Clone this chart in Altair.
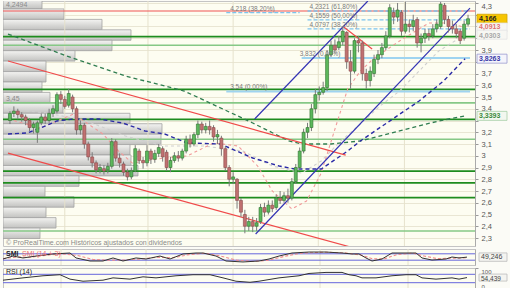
import altair as alt
import pandas as pd

# ---------------- candles (weekly) ----------------
opens = [3.30, 3.36, 3.38, 3.35, 3.33, 3.30, 3.24, 3.20, 3.28, 3.33,
         3.30, 3.36, 3.38, 3.52, 3.48, 3.43, 3.50, 3.40, 3.22, 3.26,
         3.10, 2.99, 2.94, 2.88, 2.89, 2.88, 2.91, 3.12, 2.98, 2.93,
         2.86, 2.82, 2.87, 3.04, 2.96, 2.94, 3.04, 2.97, 3.02, 3.06,
         3.03, 2.90, 2.96, 3.00, 2.98, 3.04, 3.14, 3.10, 3.18, 3.27,
         3.22, 3.25, 3.24, 3.16, 3.15, 3.06, 2.90, 2.80, 2.80, 2.62,
         2.50, 2.40, 2.44, 2.40, 2.44, 2.56, 2.52, 2.58, 2.56, 2.64,
         2.62, 2.66, 2.64, 2.78, 2.90, 3.04, 3.20, 3.24, 3.40, 3.52,
         3.54, 3.58, 3.86, 3.94, 3.92, 3.97, 4.05, 3.80, 3.72, 3.98,
         3.96, 3.70, 3.64, 3.70, 3.82, 3.86, 3.92, 4.02, 4.22, 4.18,
         4.22, 4.06, 4.12, 4.10, 4.16, 3.96, 4.00, 4.04, 4.02, 4.08,
         4.10, 4.28, 4.16, 4.10, 4.08, 4.06, 4.00, 4.12]
closes = [3.36, 3.38, 3.35, 3.33, 3.30, 3.24, 3.27, 3.28, 3.33, 3.30,
          3.36, 3.40, 3.52, 3.48, 3.42, 3.53, 3.40, 3.22, 3.26, 3.10,
          2.99, 2.94, 2.88, 2.90, 2.87, 2.91, 3.12, 2.98, 2.94, 2.86,
          2.82, 2.87, 3.06, 2.96, 2.94, 3.04, 2.97, 3.02, 3.07, 2.99,
          2.90, 2.96, 3.00, 2.98, 3.04, 3.14, 3.10, 3.18, 3.27, 3.22,
          3.25, 3.22, 3.16, 3.18, 3.06, 2.90, 2.80, 2.82, 2.62, 2.52,
          2.40, 2.44, 2.40, 2.43, 2.56, 2.52, 2.58, 2.55, 2.64, 2.62,
          2.66, 2.64, 2.78, 2.90, 3.04, 3.20, 3.24, 3.40, 3.52, 3.54,
          3.58, 3.86, 3.94, 3.90, 3.97, 4.06, 3.80, 3.72, 3.98, 3.96,
          3.70, 3.64, 3.72, 3.82, 3.86, 3.92, 4.02, 4.26, 4.18, 4.24,
          4.06, 4.12, 4.10, 4.15, 3.96, 4.00, 4.04, 4.02, 4.08, 4.12,
          4.29, 4.16, 4.10, 4.08, 4.04, 3.98, 4.12, 4.166]
highs = [3.38, 3.42, 3.40, 3.37, 3.35, 3.32, 3.29, 3.30, 3.36, 3.36,
         3.40, 3.43, 3.54, 3.55, 3.51, 3.57, 3.52, 3.42, 3.30, 3.28,
         3.12, 3.03, 2.96, 2.93, 2.92, 2.94, 3.15, 3.14, 3.02, 2.95,
         2.89, 2.90, 3.09, 3.06, 2.99, 3.09, 3.06, 3.05, 3.10, 3.08,
         3.05, 2.99, 3.03, 3.04, 3.06, 3.17, 3.18, 3.20, 3.30, 3.29,
         3.28, 3.30, 3.26, 3.22, 3.17, 3.08, 2.92, 2.86, 2.81, 2.64,
         2.54, 2.48, 2.48, 2.47, 2.59, 2.60, 2.62, 2.62, 2.67, 2.70,
         2.69, 2.72, 2.81, 2.93, 3.07, 3.23, 3.28, 3.44, 3.57, 3.59,
         3.63, 3.90, 3.98, 3.99, 4.02, 4.10, 4.06, 3.90, 4.00, 4.02,
         3.98, 3.74, 3.76, 3.86, 3.90, 3.96, 4.06, 4.29, 4.26, 4.30,
         4.24, 4.31, 4.16, 4.20, 4.18, 4.04, 4.08, 4.08, 4.12, 4.16,
         4.31, 4.30, 4.19, 4.15, 4.12, 4.08, 4.15, 4.20]
lows = [3.27, 3.33, 3.31, 3.29, 3.26, 3.21, 3.19, 3.11, 3.26, 3.27,
        3.28, 3.33, 3.36, 3.44, 3.40, 3.41, 3.37, 3.18, 3.18, 3.06,
        2.96, 2.90, 2.85, 2.85, 2.84, 2.85, 2.89, 2.95, 2.90, 2.83,
        2.79, 2.80, 2.86, 2.93, 2.89, 2.91, 2.93, 2.94, 2.99, 2.95,
        2.87, 2.86, 2.94, 2.95, 2.96, 3.02, 3.07, 3.08, 3.15, 3.19,
        3.19, 3.18, 3.12, 3.10, 3.00, 2.87, 2.74, 2.76, 2.55, 2.48,
        2.34, 2.36, 2.35, 2.36, 2.42, 2.48, 2.50, 2.52, 2.54, 2.59,
        2.60, 2.60, 2.62, 2.76, 2.88, 3.02, 3.15, 3.21, 3.36, 3.47,
        3.52, 3.55, 3.84, 3.87, 3.90, 3.94, 3.74, 3.57, 3.70, 3.88,
        3.64, 3.57, 3.59, 3.67, 3.78, 3.83, 3.90, 4.00, 4.12, 4.14,
        4.02, 4.04, 4.05, 4.06, 3.92, 3.88, 3.96, 3.98, 4.00, 4.05,
        4.08, 4.12, 4.05, 4.04, 4.00, 3.95, 3.98, 4.10]

# ---------------- volume-at-price profile ----------------
vol_lower = [4.2494, 4.1606, 4.0718, 3.9830, 3.8942, 3.8054, 3.7166, 3.6278, 3.5390, 3.4502,
             3.3614, 3.2726, 3.1838, 3.0950, 3.0062, 2.9174, 2.8286, 2.7398, 2.6510, 2.5622,
             2.4734, 2.3846, 2.2958]
vol_upper = [4.3382, 4.2494, 4.1606, 4.0718, 3.9830, 3.8942, 3.8054, 3.7166, 3.6278, 3.5390,
             3.4502, 3.3614, 3.2726, 3.1838, 3.0950, 3.0062, 2.9174, 2.8286, 2.7398, 2.6510,
             2.5622, 2.4734, 2.3846]
vol_amount = [39, 61, 99, 128, 109, 72, 43, 43, 39, 47, 60, 127, 159, 158, 127, 128, 135,
              76, 42, 71, 43, 53, 37]
vol_tag = ["4,2494", "", "", "", "", "", "", "", "", "3,45", "", "", "", "", "", "", "",
           "", "", "", "", "", ""]

# ---------------- horizontal levels ----------------
green_dark_levels = [4.013, 3.565, 3.31, 2.87, 2.77, 2.643]
green_light_levels = [3.94, 3.45, 3.14, 2.36]
red_levels = [4.2321]

# Fibonacci segments: start index, end index, price
fib_solid_x0 = [74.5, 55.25]
fib_solid_x1 = [117.5, 117.5]
fib_solid_p = [3.832, 3.547]
fib_dash_x0 = [55.25, 76.0, 76.0, 76.0]
fib_dash_x1 = [74.0, 117.5, 117.5, 117.5]
fib_dash_p = [4.218, 4.2321, 4.1559, 4.0797]
fib_text = ["4,218 (38,20%)", "4,2321 (61,80%)", "4,1559 (50,00%)", "4,0797 (38,20%)",
            "3,832 (0,00%)", "3,54 (0,00%)"]
fib_text_x = [56.25, 76.5, 76.5, 76.5, 74.0, 56.25]
fib_text_p = [4.218, 4.2321, 4.1559, 4.0797, 3.832, 3.547]

# trend lines (two end points each)
red_id = ["a", "a", "b", "b", "c", "c"]
red_x = [-0.5, 85.75, -0.5, 87.0, 85.25, 92.5]
red_p = [3.806, 3.006, 3.023, 2.223, 4.096, 3.909]
blue_id = ["u", "u", "m", "m"]
blue_x = [62.5, 91.4, 62.75, 117.5]
blue_p = [3.313, 4.317, 2.334, 4.257]

# moving averages
ma_blue_x = [-0.5, 4.5, 7.75, 12, 16.25, 22.75, 28.75, 34.5, 39.5, 45.25, 53.75, 62, 68.75,
             72.75, 79.5, 86.25, 89.5, 97.75, 104.5, 110.75, 116.25]
ma_blue_p = [3.185, 3.194, 3.236, 3.296, 3.313, 3.313, 3.279, 3.211, 3.185, 3.109, 3.100,
             2.981, 2.913, 2.887, 2.887, 3.040, 3.126, 3.313, 3.466, 3.636, 3.8263]
ma_green_x = [-0.5, 14.5, 29.5, 44.5, 52.75, 62, 71.25, 74.5, 82, 89.5, 99.5, 109.5, 116.25]
ma_green_p = [4.036, 3.849, 3.679, 3.551, 3.423, 3.279, 3.126, 3.100, 3.100, 3.126, 3.211,
              3.296, 3.3393]
ma_pink_x = [-0.5, 7.75, 16.25, 23.75, 27.75, 31.25, 34.5, 39.5, 45.25, 52, 58.25, 63.25, 67,
             72, 75.75, 79.5, 83.25, 86.25, 89.5, 92.75, 99.5, 107, 112, 116.25]
ma_pink_p = [3.313, 3.236, 3.355, 3.185, 3.040, 2.938, 2.955, 2.981, 2.998, 3.109, 3.083,
             2.913, 2.700, 2.547, 2.615, 2.853, 3.253, 3.568, 3.721, 3.823, 3.977, 4.130,
             4.130, 4.0913]
ma_gray_x = [-0.5, 9.5, 19.5, 29.5, 39.5, 49.5, 59.5, 67, 74.5, 79.5, 84.5, 89.5, 94.5, 99.5,
             104.5, 109.5, 116.25]
ma_gray_p = [3.398, 3.364, 3.296, 3.168, 3.083, 3.083, 3.040, 2.913, 2.853, 2.955, 3.126,
             3.270, 3.423, 3.551, 3.721, 3.891, 4.0303]

# last-value tags on the price axis
tag_p = [4.166, 4.0913, 4.0303, 3.8263, 3.3393]
tag_text = ["4,166", "4,0913", "4,0303", "3,8263", "3,3393"]
tag_fill = ["#f6c500", "#f7f7f3", "#f7f7f3", "#f4f4fb", "#f2f7ef"]
tag_stroke = ["#d4a400", "#e4e4e4", "#e4e4e4", "#9a9ad0", "#a8cfa8"]
tag_color = ["#222222", "#e07070", "#a8a8a8", "#3a3aa8", "#3a8a3a"]
tag_shift = [0, -1, 1.5, 0, 0]

price_ticks = [2.3, 2.4, 2.5, 2.6, 2.7, 2.8, 2.9, 3.0, 3.1, 3.2, 3.3, 3.4, 3.5, 3.6, 3.7,
               3.8, 3.9, 4.0, 4.1, 4.2, 4.3]
vgrid_x = [14, 35.25, 57, 78.75, 100.75]

# ---------------- SMI / RSI ----------------
smi_x = [-0.5, 2, 4.5, 7.75, 12, 16.25, 17.75, 21.25, 24.5, 27, 29.5, 32.75, 35.25, 38.75,
         41.25, 44.5, 47.75, 49.5, 52.75, 55.25, 59.5, 63.5, 66, 68.5, 71.75, 76, 80.25,
         84.25, 86.75, 88.5, 90.25, 91.75, 94.25, 96.75, 100.25, 102.75, 104.25, 106.75,
         110.25, 111.75, 113.5, 115.5]
smi_v = [37.5, 56, 44, 56, 69, 75, 44, 25, 25, 44, 25, 44, 37.5, 56, 37.5, 69, 75, 75, 56,
         25, 19, 25, 37.5, 56, 75, 81, 81, 75, 69, 69, 44, 25, 37.5, 75, 75, 75, 44, 31,
         37.5, 50, 44, 49.246]
sig_x = [-0.5, 3, 6, 10, 14, 18, 22, 26, 30, 34, 38, 42, 46, 50, 54, 58, 62, 66, 70, 74,
         80, 85, 89, 92, 95, 98, 102, 105, 108, 112, 115.5]
sig_v = [40, 50, 48, 60, 70, 60, 35, 30, 32, 38, 48, 45, 65, 74, 55, 30, 22, 30, 55, 74,
         80, 76, 62, 38, 40, 65, 74, 55, 40, 42, 46]
rsi_x = [-0.5, 4.5, 9.5, 13.75, 16.25, 19.5, 24.5, 27, 31.25, 34.5, 37.75, 42.75, 47, 51.25,
         54.5, 57.75, 61.25, 63.5, 68.5, 73.5, 76, 80.25, 84.25, 86, 87.75, 89.25, 92.75,
         96.75, 100.25, 102.75, 104.25, 107.75, 111.75, 113.5, 115.5]
rsi_v = [42, 53, 63, 68, 47, 37, 42, 53, 47, 58, 53, 63, 68, 68, 53, 37, 32, 37, 53, 63, 74,
         79, 79, 68, 63, 53, 53, 63, 68, 68, 53, 47, 53, 47, 54.439]

# ---------------- build ----------------
W = 472
XS = alt.Scale(domain=[-0.5, 117.5], nice=False, zero=False)
YS = alt.Scale(domain=[2.232, 4.317], nice=False, zero=False)
FONT = "Liberation Sans"
BOX = "M-1,-0.3L1,-0.3L1,0.3L-1,0.3Z"
BOX_S = "M-1,-0.25L1,-0.25L1,0.25L-1,0.25Z"

candles = pd.DataFrame({"i": list(range(len(opens))), "o": opens, "h": highs,
                        "l": lows, "c": closes})
vol_df = pd.DataFrame({"lo": vol_lower, "hi": vol_upper, "v": vol_amount, "t": vol_tag})
vol_df["zero"] = 0
vol_df["mid"] = (vol_df["lo"] + vol_df["hi"]) / 2

label_expr = ("indexof([33,38,40,41,42], round(datum.value*10)) >= 0 ? '' : "
              "replace(format(datum.value, '.1~f'), '.', ',')")
YAX = alt.Axis(orient="right", values=price_ticks, labelExpr=label_expr,
               labelFontSize=7.5, labelColor="#555555", labelFont=FONT,
               tickSize=3, tickColor="#999999", domainColor="#aaaaaa",
               labelPadding=3, grid=True, gridColor="#e9e6d3", labelFlush=4, title=None)


def Y(field):
    return alt.Y(field, scale=YS, axis=YAX)


VX = alt.Scale(domain=[0, W], nice=False, zero=False)
gradient = {"gradient": "linear", "x1": 0, "y1": 0, "x2": 0, "y2": 1,
            "stops": [{"offset": 0, "color": "#f4f4f2"}, {"offset": 0.55, "color": "#d8d8d6"},
                      {"offset": 1, "color": "#c2c2c0"}]}

vol_bars = alt.Chart(vol_df).mark_bar(color=gradient, stroke="#a2a2a2", strokeWidth=0.8,
                                      clip=True).encode(
    x=alt.X("zero:Q", scale=VX, axis=None), x2="v:Q", y=Y("lo:Q"), y2="hi:Q")
vol_text = alt.Chart(vol_df).mark_text(align="left", baseline="middle", fontSize=7,
                                       font=FONT, color="#8a8a8a", dx=3, dy=1).encode(
    x=alt.X("zero:Q", scale=VX, axis=None), y=Y("mid:Q"), text="t:N")
vol_layer = alt.layer(vol_bars, vol_text)


def hrules(levels, color, width):
    return alt.Chart(pd.DataFrame({"p": levels})).mark_rule(
        color=color, strokeWidth=width).encode(y=Y("p:Q"))


vgrid = alt.Chart(pd.DataFrame({"x": vgrid_x})).mark_rule(color="#e6e2cc", strokeWidth=1).encode(
    x=alt.X("x:Q", scale=XS, axis=None))

g_light = hrules(green_light_levels, "#86c886", 1.6)
g_dark = hrules(green_dark_levels, "#1e8c1e", 1.8)
r_level = hrules(red_levels, "#f05555", 1.2)

fib_s = alt.Chart(pd.DataFrame({"x0": fib_solid_x0, "x1": fib_solid_x1, "p": fib_solid_p})
                  ).mark_rule(color="#9fd4f0", strokeWidth=2.2).encode(
    x=alt.X("x0:Q", scale=XS, axis=None), x2="x1:Q", y=Y("p:Q"))
fib_d = alt.Chart(pd.DataFrame({"x0": fib_dash_x0, "x1": fib_dash_x1, "p": fib_dash_p})
                  ).mark_rule(color="#7cc4ee", strokeWidth=1.3, strokeDash=[4, 2]).encode(
    x=alt.X("x0:Q", scale=XS, axis=None), x2="x1:Q", y=Y("p:Q"))
fib_t = alt.Chart(pd.DataFrame({"x": fib_text_x, "p": fib_text_p, "t": fib_text})
                  ).mark_text(align="left", baseline="bottom", fontSize=6.5, font=FONT,
                              color="#7a7a7a", dy=-1).encode(
    x=alt.X("x:Q", scale=XS, axis=None), y=Y("p:Q"), text="t:N")


def curve(xs, ps, color, width, dash=None, ids=None):
    df = pd.DataFrame({"x": xs, "p": ps})
    df["g"] = ids if ids is not None else "s"
    df["o"] = range(len(df))
    kw = dict(color=color, strokeWidth=width, clip=True)
    if dash:
        kw["strokeDash"] = dash
    return alt.Chart(df).mark_line(**kw).encode(
        x=alt.X("x:Q", scale=XS, axis=None), y=Y("p:Q"), detail="g:N", order="o:Q")


ma_gray = curve(ma_gray_x, ma_gray_p, "#cfcfcf", 1.1, [3, 3])
ma_pink = curve(ma_pink_x, ma_pink_p, "#f19a9a", 1.1, [3, 3])
ma_green = curve(ma_green_x, ma_green_p, "#2f7d4f", 1.3, [4, 3])
ma_blue = curve(ma_blue_x, ma_blue_p, "#2a2aa6", 1.4, [4, 3])
red_tl = curve(red_x, red_p, "#f04a4a", 1.2, None, red_id)
blue_tl = curve(blue_x, blue_p, "#3434b4", 1.2, None, blue_id)

wicks = alt.Chart(candles).mark_rule(color="#7a7a7a", strokeWidth=1).encode(
    x=alt.X("i:Q", scale=XS, axis=None), y=Y("l:Q"), y2="h:Q")
bodies = alt.Chart(candles).mark_bar(size=3, strokeWidth=0.6).encode(
    x=alt.X("i:Q", scale=XS, axis=None), y=Y("o:Q"), y2="c:Q",
    fill=alt.condition("datum.c >= datum.o", alt.value("#5cb85c"), alt.value("#c07070")),
    stroke=alt.condition("datum.c >= datum.o", alt.value("#2f6f2f"), alt.value("#8a4a4a")))

copy_t = alt.Chart(pd.DataFrame({"t": ["\u00a9 ProRealTime.com  Hist\u00f3ricos ajustados con dividendos"]})
                   ).mark_text(align="left", baseline="middle", fontSize=7, font=FONT,
                               color="#8a8a8a").encode(x=alt.value(3), y=alt.value(242), text="t:N")

tags = pd.DataFrame({"p": tag_p, "t": tag_text, "f": tag_fill, "s": tag_stroke,
                     "c": tag_color, "d": tag_shift})
tag_box = alt.Chart(tags).mark_point(shape=BOX, size=900, filled=True, opacity=1,
                                     strokeWidth=0.8).encode(
    x=alt.value(489), y=Y("p:Q"),
    fill=alt.Fill("f:N", scale=None), stroke=alt.Stroke("s:N", scale=None))
tag_txt_parts = []
for k in range(len(tag_p)):
    sub = tags.iloc[[k]]
    tag_txt_parts.append(
        alt.Chart(sub).mark_text(align="left", baseline="middle", fontSize=7, font=FONT,
                                 fontWeight="bold", dy=float(tag_shift[k])).encode(
            x=alt.value(476), y=Y("p:Q"), text="t:N", color=alt.Color("c:N", scale=None)))

inner = alt.layer(vgrid, g_light, g_dark, r_level, fib_s, fib_d, ma_gray, ma_pink, ma_green,
                  ma_blue, red_tl, blue_tl, wicks, bodies, fib_t, copy_t, tag_box,
                  *tag_txt_parts)
main = alt.layer(vol_layer, inner).resolve_scale(x="independent").properties(width=W, height=245)

# ---- SMI / RSI panels ----
VS = alt.Scale(domain=[0, 100], nice=False, zero=False)
SAX = alt.Axis(orient="right", values=[0, 100], labels=False, ticks=False, grid=False,
               domainColor="#aaaaaa", title=None)
RAX = alt.Axis(orient="right", values=[0, 100], labelFontSize=6, labelColor="#555555",
               labelFont=FONT, tickSize=3, tickColor="#999999", grid=False,
               domainColor="#aaaaaa", labelPadding=3, labelFlush=True, title=None)

smi_df = pd.DataFrame({"x": smi_x, "v": smi_v})
sig_df = pd.DataFrame({"x": sig_x, "v": sig_v})
bands = pd.DataFrame({"v": [30, 70]})
vg_df = pd.DataFrame({"x": vgrid_x})


def panel_layers(ax):
    def YV(f):
        return alt.Y(f, scale=VS, axis=ax)
    vg = alt.Chart(vg_df).mark_rule(color="#e6e2cc").encode(x=alt.X("x:Q", scale=XS, axis=None))
    band = alt.Chart(bands).mark_rule(color="#6666dd", strokeWidth=1).encode(y=YV("v:Q"))
    return YV, vg, band


YV_s, smi_vg, smi_band = panel_layers(SAX)
smi_sig = alt.Chart(sig_df).mark_line(color="#f08a8a", strokeWidth=1.1, strokeDash=[3, 2]).encode(
    x=alt.X("x:Q", scale=XS, axis=None), y=YV_s("v:Q"))
smi_line = alt.Chart(smi_df).mark_line(color="#333333", strokeWidth=1).encode(
    x=alt.X("x:Q", scale=XS, axis=None), y=YV_s("v:Q"))
smi_lab1 = alt.Chart(pd.DataFrame({"t": ["SMI"]})).mark_text(
    align="left", baseline="middle", fontSize=7, font=FONT, color="#222222", fontWeight="bold"
).encode(x=alt.value(3), y=alt.value(5), text="t:N")
smi_lab2 = alt.Chart(pd.DataFrame({"t": ["SMI (14 + 3)"]})).mark_text(
    align="left", baseline="middle", fontSize=7, font=FONT, color="#f07070"
).encode(x=alt.value(19), y=alt.value(5), text="t:N")
smi_tag_df = pd.DataFrame({"v": [smi_v[-1]], "t": ["49,246"]})
smi_box = alt.Chart(smi_tag_df).mark_point(shape=BOX, size=784, filled=True, opacity=1,
                                           fill="#f4f4f0", stroke="#bbbbbb", strokeWidth=0.8).encode(
    x=alt.value(490), y=YV_s("v:Q"))
smi_txt = alt.Chart(smi_tag_df).mark_text(align="left", baseline="middle", fontSize=7,
                                          font=FONT, color="#444444").encode(
    x=alt.value(478), y=YV_s("v:Q"), text="t:N")
smi = alt.layer(smi_vg, smi_band, smi_sig, smi_line, smi_lab1, smi_lab2, smi_box,
                smi_txt).properties(width=W, height=16)

YV_r, rsi_vg, rsi_band = panel_layers(RAX)
rsi_df = pd.DataFrame({"x": rsi_x, "v": rsi_v})
rsi_line = alt.Chart(rsi_df).mark_line(color="#333333", strokeWidth=1).encode(
    x=alt.X("x:Q", scale=XS, axis=None), y=YV_r("v:Q"))
rsi_lab = alt.Chart(pd.DataFrame({"t": ["RSI (14)"]})).mark_text(
    align="left", baseline="middle", fontSize=7, font=FONT, color="#222222"
).encode(x=alt.value(3), y=alt.value(4), text="t:N")
rsi_tag_df = pd.DataFrame({"v": [rsi_v[-1]], "t": ["54,439"]})
rsi_box = alt.Chart(rsi_tag_df).mark_point(shape=BOX_S, size=784, filled=True, opacity=1,
                                           fill="#f4f4f0", stroke="#bbbbbb", strokeWidth=0.8).encode(
    x=alt.value(490), y=YV_r("v:Q"))
rsi_txt = alt.Chart(rsi_tag_df).mark_text(align="left", baseline="middle", fontSize=6.5,
                                          font=FONT, color="#444444", dy=1).encode(
    x=alt.value(478), y=YV_r("v:Q"), text="t:N")
rsi = alt.layer(rsi_vg, rsi_band, rsi_line, rsi_lab, rsi_box, rsi_txt).properties(
    width=W, height=21)

chart = alt.vconcat(main, smi, rsi, spacing=1).properties(
    padding={"left": 0, "top": 0, "right": 0, "bottom": 0},
    background="#fbfbf6",
).configure_view(stroke="#c4c4c4", fill="#fdfdf1").configure_text(font=FONT)

chart.save("out.html", embed_options={"renderer": "svg", "actions": False})
